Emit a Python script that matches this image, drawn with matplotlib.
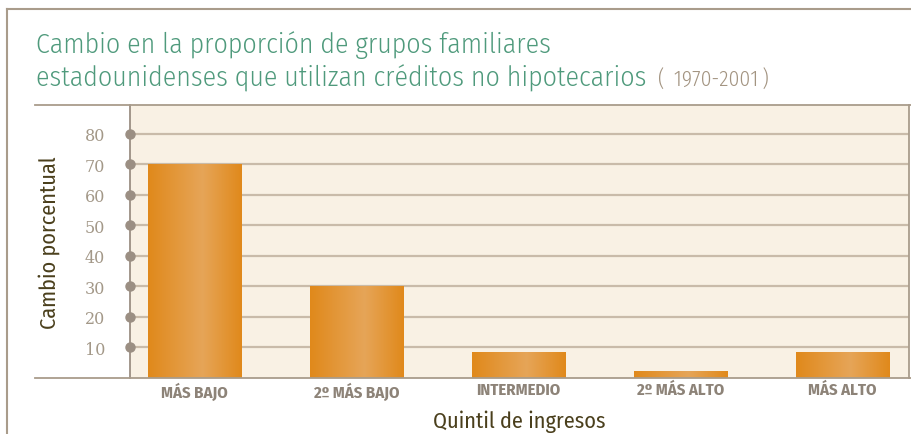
import matplotlib
matplotlib.use("Agg")
import matplotlib.pyplot as plt
import numpy as np
from matplotlib.colors import LinearSegmentedColormap
from matplotlib.lines import Line2D

categories = ["MÁS BAJO", "2º MÁS BAJO", "INTERMEDIO", "2º MÁS ALTO", "MÁS ALTO"]
values = [70, 30, 8.5, 2, 8.5]
yticks = [10, 20, 30, 40, 50, 60, 70, 80]

NARROW = ["Fira Sans Condensed", "Roboto Condensed", "DejaVu Sans"]
GREEN = "#4f9a7c"
OLIVE = "#4a3f1c"
TAN = "#a99c8b"
GRID = "#c9bba9"
CREAM = "#f9f1e4"
LABEL = "#8d8378"

W, H = 911, 435
fig = plt.figure(figsize=(W / 100, H / 100), dpi=100)
fig.patch.set_facecolor("white")

def fx(px): return px / W
def fy(py): return 1 - py / H

# plot area in pixel coords
left, right, top, bottom = 130, 909, 106, 378.5
ax = fig.add_axes([fx(left), fy(bottom), fx(right) - fx(left), fy(top) - fy(bottom)])
ax.set_facecolor(CREAM)
x = np.arange(len(categories))

for t in yticks:
    ax.axhline(t, color=GRID, lw=1.6, zorder=1)
ax.plot([0] * len(yticks), yticks, "o", color="#9b8f83", ms=6.5,
        transform=ax.get_yaxis_transform(), clip_on=False, zorder=5)

cmap = LinearSegmentedColormap.from_list("bar", [(0, "#e0891b"), (0.58, "#e6a558"), (1, "#e0891b")])
grad = np.linspace(0, 1, 256).reshape(1, -1)
bw = 0.575
for xi, v in zip(x, values):
    ax.imshow(grad, cmap=cmap, aspect="auto", extent=[xi - bw / 2, xi + bw / 2, 0, v],
              zorder=3, interpolation="bilinear")
ax.set_xlim(-0.40, 4.41)
ax.set_ylim(0, 89.5)

for s in ["top", "bottom"]:
    ax.spines[s].set_visible(False)
ax.spines["left"].set_color("#9b8f83")
ax.spines["left"].set_linewidth(1.3)
ax.spines["right"].set_color(TAN)
ax.spines["right"].set_linewidth(1.3)

ax.set_yticks(yticks)
ax.set_yticklabels([str(t) for t in yticks], family="DejaVu Serif", fontsize=11.5, color="#a39888")
ax.set_xticks(x)
ax.set_xticklabels(categories, family=NARROW, fontsize=12, fontweight="bold", color=LABEL)
ax.tick_params(axis="y", length=0, pad=18)
ax.tick_params(axis="x", length=0, pad=3)

ax.set_xlabel("Quintil de ingresos", family=NARROW, fontsize=16, color=OLIVE, labelpad=7)
fig.text(fx(49), fy(243), "Cambio porcentual", rotation=90, family=NARROW, fontsize=16,
         color=OLIVE, ha="center", va="center")

# frame lines
fig.add_artist(Line2D([fx(35), fx(911)], [fy(bottom), fy(bottom)], color=TAN, lw=1.3))
fig.add_artist(Line2D([fx(35), fx(911)], [fy(top), fy(top)], color=TAN, lw=1.3))
fig.add_artist(Line2D([fx(7), fx(911)], [fy(10), fy(10)], color=TAN, lw=1.5))
fig.add_artist(Line2D([fx(7), fx(7)], [fy(10), fy(435)], color=TAN, lw=1.5))

# title
fig.text(fx(36), fy(45), "Cambio en la proporción de grupos familiares", family=NARROW,
         fontsize=20, fontweight=300, color=GREEN, ha="left", va="center")
fig.text(fx(36), fy(78), "estadounidenses que utilizan créditos no hipotecarios",
         family=NARROW, fontsize=20, fontweight=300, color=GREEN, ha="left", va="center")
fig.text(fx(658), fy(79), "(\u2009 1970-2001\u2009)", family=NARROW, fontsize=15.5, fontweight=300,
         color="#a39481", ha="left", va="center")

fig.savefig("out.png", dpi=100, facecolor="white")
